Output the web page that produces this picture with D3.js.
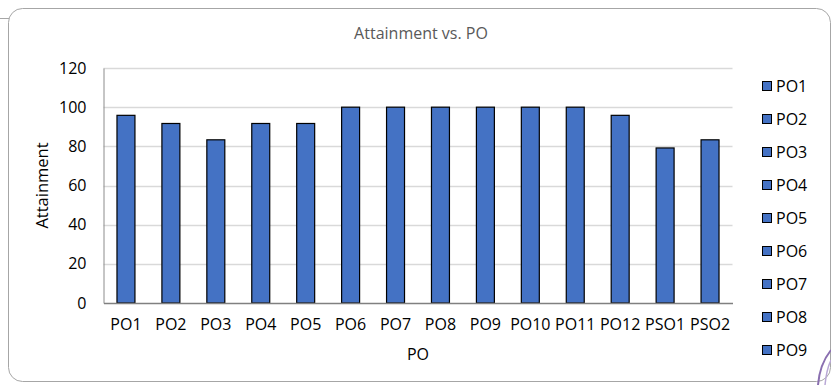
<!DOCTYPE html>
<html><head><meta charset="utf-8">
<script src="https://cdn.jsdelivr.net/npm/d3@7"></script>
<style>body{margin:0;background:#fff;} svg{display:block;font-family:"Open Sans",sans-serif;}</style>
</head><body>
<svg id="c" width="831" height="385"></svg>
<script>
const categories = ["PO1","PO2","PO3","PO4","PO5","PO6","PO7","PO8","PO9","PO10","PO11","PO12","PSO1","PSO2"];
const attainment = [95.83,91.67,83.33,91.67,91.67,100,100,100,100,100,100,95.83,79.17,83.33];
const yTicks = [0,20,40,60,80,100,120];
const legendItems = ["PO1","PO2","PO3","PO4","PO5","PO6","PO7","PO8","PO9"];
const titleText = "Attainment vs. PO";
const xTitle = "PO", yTitle = "Attainment";

const svg = d3.select("#c");
// frame
svg.append("line").attr("x1",0).attr("x2",9).attr("y1",18.5).attr("y2",18.5).attr("stroke","#a6a6a6");
svg.append("rect").attr("x",8.5).attr("y",8.5).attr("width",822).attr("height",373).attr("rx",14)
  .attr("fill","#fff").attr("stroke","#a6a6a6").attr("stroke-width",1);

const L=103.5, R=732.5, T=68, B=303;
const x = d3.scaleBand().domain(categories).range([L,R]).paddingInner(0.6).paddingOuter(0.3);
const y = d3.scaleLinear().domain([0,120]).range([B,T]);

// gridlines
svg.append("g").selectAll("line").data(yTicks.filter(d=>d>0)).join("line")
  .attr("x1",L).attr("x2",R).attr("y1",d=>Math.round(y(d))+0.5).attr("y2",d=>Math.round(y(d))+0.5)
  .attr("stroke","#d9d9d9").attr("stroke-width",1.3);

// y axis
const yAxis = svg.append("g").attr("transform",`translate(${L},0)`)
  .call(d3.axisLeft(y).tickValues(yTicks).tickSize(0).tickPadding(17));
yAxis.select(".domain").attr("stroke","#8c8c8c").attr("stroke-width",1);
yAxis.selectAll("text").attr("font-size",16).attr("fill","#000").attr("font-family","Open Sans");

// bars
svg.append("g").selectAll("rect").data(categories).join("rect")
  .attr("x",d=>x(d)).attr("width",x.bandwidth())
  .attr("y",(d,i)=>y(attainment[i])).attr("height",(d,i)=>y(0)-y(attainment[i]))
  .attr("fill","#4472c4").attr("stroke","#000").attr("stroke-width",1.2);

// x axis
const xAxis = svg.append("g").attr("transform",`translate(0,${B})`)
  .call(d3.axisBottom(x).tickSize(0).tickPadding(16));
xAxis.select(".domain").attr("stroke","#808080").attr("stroke-width",1.6);
xAxis.selectAll("text").attr("font-size",16).attr("fill","#000").attr("font-family","Open Sans");

// titles
svg.append("text").attr("x",421).attr("y",39).attr("text-anchor","middle")
  .attr("font-size",16).attr("fill","#595959").text(titleText);
svg.append("text").attr("x",(L+R)/2).attr("y",360).attr("text-anchor","middle")
  .attr("font-size",16).attr("fill","#000").text(xTitle);
svg.append("text").attr("transform",`translate(48,${(T+B)/2}) rotate(-90)`).attr("text-anchor","middle")
  .attr("font-size",16.5).attr("fill","#000").text(yTitle);

// legend
const lg = svg.append("g").selectAll("g").data(legendItems).join("g")
  .attr("transform",(d,i)=>`translate(762,${86+i*33})`);
lg.append("rect").attr("x",0.5).attr("y",-4.5).attr("width",9).attr("height",9)
  .attr("fill","#4472c4").attr("stroke","#000").attr("stroke-width",1);
lg.append("text").attr("x",14).attr("y",6).attr("font-size",16).attr("fill","#000").text(d=>d);

// decorative purple fragment bottom-right
svg.append("path").attr("d","M818,385 C819,372 823,360 831,350").attr("fill","none")
  .attr("stroke","#8a6fb0").attr("stroke-width",2);
svg.append("path").attr("d","M825,385 C826,375 828,366 831,360").attr("fill","none")
  .attr("stroke","#b9a8d6").attr("stroke-width",1.5);
</script>
</body></html>
